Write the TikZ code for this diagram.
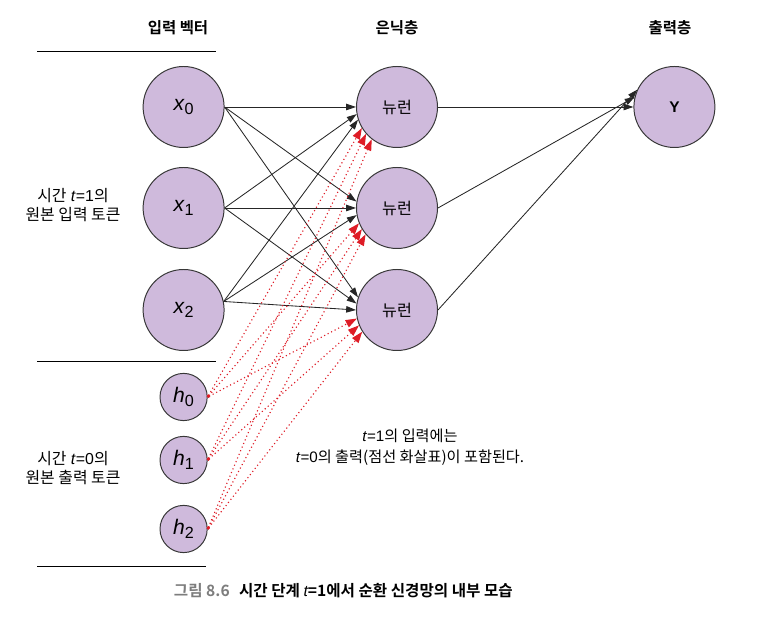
\documentclass[tikz,border=0pt]{standalone}
\usepackage{fontspec}
\setmainfont{Liberation Sans}
\newfontfamily\kr{Noto Sans CJK KR}[BoldFont={Noto Sans CJK KR Bold}]
\usepackage{xcolor}
\usepackage{tikz}
\usetikzlibrary{arrows.meta}

\definecolor{cellfill}{RGB}{207,186,220}
\definecolor{celldraw}{RGB}{55,55,55}
\definecolor{recred}{RGB}{222,28,38}
\definecolor{capgray}{RGB}{125,125,125}

\newcommand{\vsym}[2]{{\fontsize{15}{16}\selectfont\textit{#1}\raisebox{-0.4ex}{\fontsize{11.5}{12}\selectfont #2}}}

\begin{document}
\begin{tikzpicture}[
	bigcell/.style={circle, draw=celldraw, line width=0.7pt, fill=cellfill, minimum size=2.025cm, inner sep=0pt},
	smallcell/.style={circle, draw=celldraw, line width=0.7pt, fill=cellfill, minimum size=1.18cm, inner sep=0pt},
	wire/.style={draw=black!85, line width=0.6pt, -{Triangle[length=7pt, width=4.6pt]}},
	recwire/.style={draw=recred, line width=0.8pt, dotted, {Square[length=1.6pt, width=1.6pt]}-{Triangle[length=8pt, width=5.6pt]}},
	headline/.style={font=\kr\bfseries\fontsize{11}{12}\selectfont},
	sidenote/.style={align=center, font=\fontsize{11.3}{13.5}\selectfont}]
	\useasboundingbox (0, 0) rectangle (19.025, 15.425);
	% Layers, labels and wires:
	\node[headline](T1) at (4.45, 14.725){입력 벡터};
	\node[headline](T2) at (9.925, 14.725){은닉층};
	\node[headline](T3) at (16.75, 14.725){출력층};
	\draw[line width=0.7pt] (0.925, 14.125) -- (5.4, 14.125);
	\draw[line width=0.7pt] (0.925, 6.375) -- (5.4, 6.375);
	\draw[line width=0.7pt] (0.925, 1.275) -- (5.15, 1.275);
	\node[sidenote](S1) at (1.825, 10.29){{\kr 시간} \textit{t}=1{\kr 의}\\{\kr 원본 입력 토큰}};
	\node[sidenote](S2) at (1.825, 3.725){{\kr 시간} \textit{t}=0{\kr 의}\\{\kr 원본 출력 토큰}};
	\node[bigcell](X0) at (4.59, 12.75){\vsym{x}{0}};
	\node[bigcell](X1) at (4.59, 10.225){\vsym{x}{1}};
	\node[bigcell](X2) at (4.59, 7.675){\vsym{x}{2}};
	\node[smallcell](H0) at (4.59, 5.5){\vsym{h}{0}};
	\node[smallcell](H1) at (4.59, 3.925){\vsym{h}{1}};
	\node[smallcell](H2) at (4.59, 2.2){\vsym{h}{2}};
	\node[bigcell, font=\kr\fontsize{11.5}{12}\selectfont](N0) at (9.925, 12.75){뉴런};
	\node[bigcell, font=\kr\fontsize{11.5}{12}\selectfont](N1) at (9.925, 10.225){뉴런};
	\node[bigcell, font=\kr\fontsize{11.5}{12}\selectfont](N2) at (9.925, 7.675){뉴런};
	\node[bigcell, font=\bfseries\fontsize{11}{12}\selectfont](Y) at (16.86, 12.75){Y};
	\draw[wire] (X0.east) -- (N0.180);
	\draw[wire] (X0.east) -- (N1.171);
	\draw[wire] (X0.east) -- (N2.162);
	\draw[wire] (X1.east) -- (N0.190);
	\draw[wire] (X1.east) -- (N1.180);
	\draw[wire] (X1.east) -- (N2.171);
	\draw[wire] (X2.12) -- (N0.198);
	\draw[wire] (X2.12) -- (N1.190);
	\draw[wire] (X2.12) -- (N2.180);
	\draw[recwire] (H0.east) -- (N0.211);
	\draw[recwire] (H1.east) -- (N0.221);
	\draw[recwire] (H2.east) -- (N0.232);
	\draw[recwire] (H0.east) -- (N1.202);
	\draw[recwire] (H1.east) -- (N1.211);
	\draw[recwire] (H2.east) -- (N1.220);
	\draw[recwire] (H0.east) -- (N2.192);
	\draw[recwire] (H1.east) -- (N2.202);
	\draw[recwire] (H2.east) -- (N2.212);
	\draw[wire] (N0.east) -- (Y.180);
	\draw[wire] (N1.east) -- (Y.166);
	\draw[wire] (N2.east) -- (Y.155);
	\node[sidenote, font=\fontsize{10.8}{15}\selectfont](A) at (10.25, 4.24){\textit{t}=1{\kr 의 입력에는}\\\textit{t}=0{\kr 의 출력(점선 화살표)이 포함된다.}};
	\node[anchor=west, font=\kr\bfseries\fontsize{11.1}{12}\selectfont](C) at (4.225, 0.65){{\color{capgray}그림 8.6}\hspace{0.6em}시간 단계 {\normalfont\itshape t}=1에서 순환 신경망의 내부 모습};
\end{tikzpicture}
\end{document}
